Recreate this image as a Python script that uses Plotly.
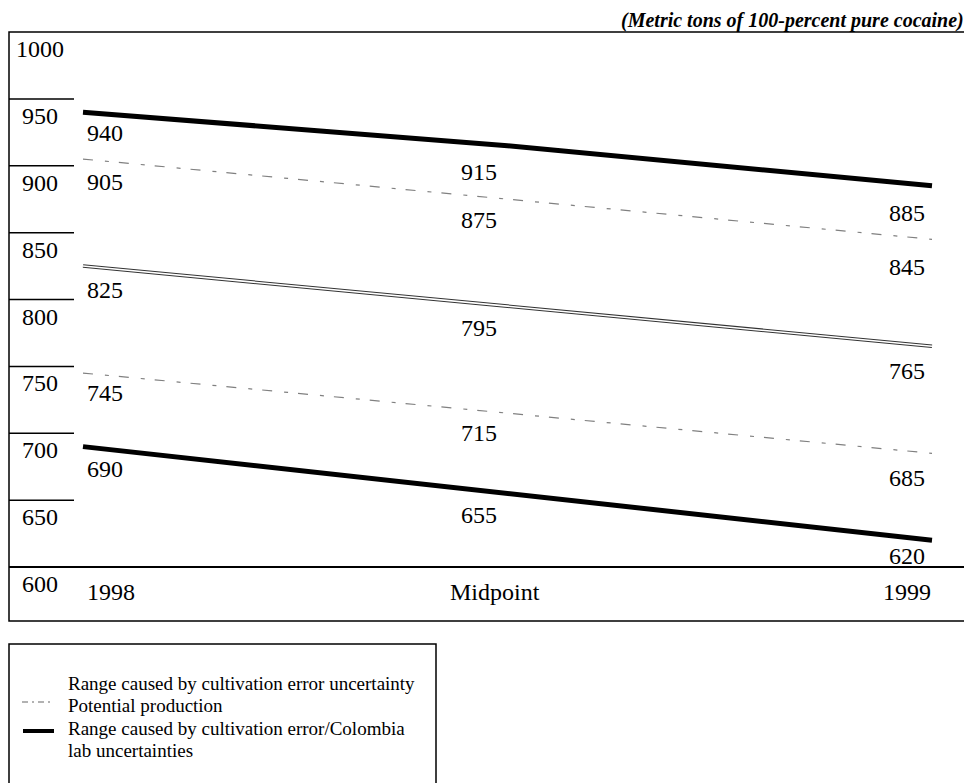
import plotly.graph_objects as go

# ---- data ----
x_pos = [0, 0.5, 1]
x_labels = ["1998", "Midpoint", "1999"]
upper_lab = [940, 915, 885]      # Range caused by cultivation error/Colombia lab uncertainties (upper)
upper_cult = [905, 875, 845]     # Range caused by cultivation error uncertainty (upper)
potential = [825, 795, 765]      # Potential production
lower_cult = [745, 715, 685]     # Range caused by cultivation error uncertainty (lower)
lower_lab = [690, 655, 620]      # Range caused by cultivation error/Colombia lab uncertainties (lower)
y_ticks = [1000, 950, 900, 850, 800, 750, 700, 650, 600]

FONT = "Liberation Serif"
OFF = 8                      # page body margin
W, H = 972 - OFF, 783 - OFF
L, R, T, B = 9 - OFF, 6, 32 - OFF, 783 - 567
PW = W - L - R
PH = H - T - B


def px(p):
    return (p - OFF - L) / PW


def py(p):
    return (H - B - (p - OFF)) / PH


x0px, x1px = 83 - 9, 932 - 9
scale = (x1px - x0px)
xr = [-x0px / scale, 1 + (PW - x1px) / scale]

fig = go.Figure()

faint = dict(color="#808080", width=1.2, dash="10px,12px,4px,10px")
fig.add_trace(go.Scatter(x=x_pos, y=upper_cult, mode="lines", line=faint,
                         name="Range caused by cultivation error uncertainty"))
fig.add_trace(go.Scatter(x=x_pos, y=lower_cult, mode="lines", line=faint,
                         name="Range caused by cultivation error uncertainty"))
fig.add_trace(go.Scatter(x=x_pos, y=potential, mode="lines",
                         line=dict(color="#333", width=3.6), name="Potential production"))
fig.add_trace(go.Scatter(x=x_pos, y=potential, mode="lines",
                         line=dict(color="white", width=1.6), hoverinfo="skip"))
thick = dict(color="black", width=5)
fig.add_trace(go.Scatter(x=x_pos, y=upper_lab, mode="lines", line=thick,
                         name="Range caused by cultivation error/Colombia lab uncertainties"))
fig.add_trace(go.Scatter(x=x_pos, y=lower_lab, mode="lines", line=thick,
                         name="Range caused by cultivation error/Colombia lab uncertainties"))

ann = []
# value labels (label offsets below the line, per column)
series_all = [upper_lab, upper_cult, potential, lower_cult, lower_lab]
label_dy = [[-21, -26, -27], [-23, -21, -28], [-24, -22, -25], [-20, -20, -25], [-22, -22, -16]]
col_cfg = [("left", 2), ("center", -29), ("right", -5)]
for s, series in enumerate(series_all):
    for i, (xa, xs) in enumerate(col_cfg):
        ann.append(dict(x=x_pos[i], y=series[i], xref="x", yref="y", text=str(series[i]),
                        showarrow=False, xanchor=xa, yanchor="middle", xshift=xs,
                        yshift=label_dy[s][i],
                        font=dict(family=FONT, size=24, color="black")))

# y tick labels
for v in y_ticks:
    ann.append(dict(x=0, y=v, xref="paper", yref="y", text=str(v), showarrow=False,
                    xanchor="center", yanchor="middle", xshift=31, yshift=-17,
                    font=dict(family=FONT, size=24, color="black")))

# x labels (bottom row)
x_lab_cfg = [("left", 2), ("center", -13), ("right", 1)]
for i, (xa, xs) in enumerate(x_lab_cfg):
    ann.append(dict(x=x_pos[i], y=py(592), xref="x", yref="paper", text=x_labels[i],
                    showarrow=False, xanchor=xa, yanchor="middle", xshift=xs,
                    font=dict(family=FONT, size=24, color="black")))

# unit note
ann.append(dict(x=px(965), y=py(8), xref="paper", yref="paper",
                text="<b><i>(Metric tons of 100-percent pure cocaine)</i></b>",
                showarrow=False, xanchor="right", yanchor="top", borderpad=0,
                font=dict(family=FONT, size=20, color="black")))

# legend text
leg_lines = [("Range caused by cultivation error uncertainty", 683),
             ("Potential production", 705),
             ("Range caused by cultivation error/Colombia", 728),
             ("lab uncertainties", 750)]
for txt, yp in leg_lines:
    ann.append(dict(x=px(66), y=py(yp), xref="paper", yref="paper", text=txt,
                    showarrow=False, xanchor="left", yanchor="middle",
                    font=dict(family=FONT, size=19, color="black")))

shapes = []
# outer box
shapes.append(dict(type="rect", xref="paper", yref="paper", x0=0, x1=1, y0=py(621), y1=1,
                   line=dict(color="black", width=1.5)))
# separator line above the bottom row
shapes.append(dict(type="line", xref="paper", yref="paper", x0=0, x1=1, y0=0, y1=0,
                   line=dict(color="black", width=2)))
# y tick segments
for v in y_ticks[1:-1]:
    shapes.append(dict(type="line", xref="paper", yref="y", x0=0, x1=px(74), y0=v, y1=v,
                       line=dict(color="black", width=1.5)))
# legend box
shapes.append(dict(type="rect", xref="paper", yref="paper", x0=0, x1=px(436),
                   y0=py(800), y1=py(644), line=dict(color="black", width=1.5)))
# legend symbols
shapes.append(dict(type="line", xref="paper", yref="paper", x0=px(22), x1=px(54),
                   y0=py(702), y1=py(702),
                   line=dict(color="#666", width=1.2, dash="6px,4px,2px,4px")))
shapes.append(dict(type="line", xref="paper", yref="paper", x0=px(23), x1=px(54),
                   y0=py(731), y1=py(731), line=dict(color="black", width=4)))

fig.update_layout(
    width=W, height=H,
    margin=dict(l=L, r=R, t=T, b=B),
    paper_bgcolor="white", plot_bgcolor="white",
    showlegend=False,
    xaxis=dict(range=xr, visible=False, fixedrange=True),
    yaxis=dict(range=[600, 1000], visible=False, fixedrange=True),
    annotations=ann, shapes=shapes,
)

fig.write_html("out.html")
